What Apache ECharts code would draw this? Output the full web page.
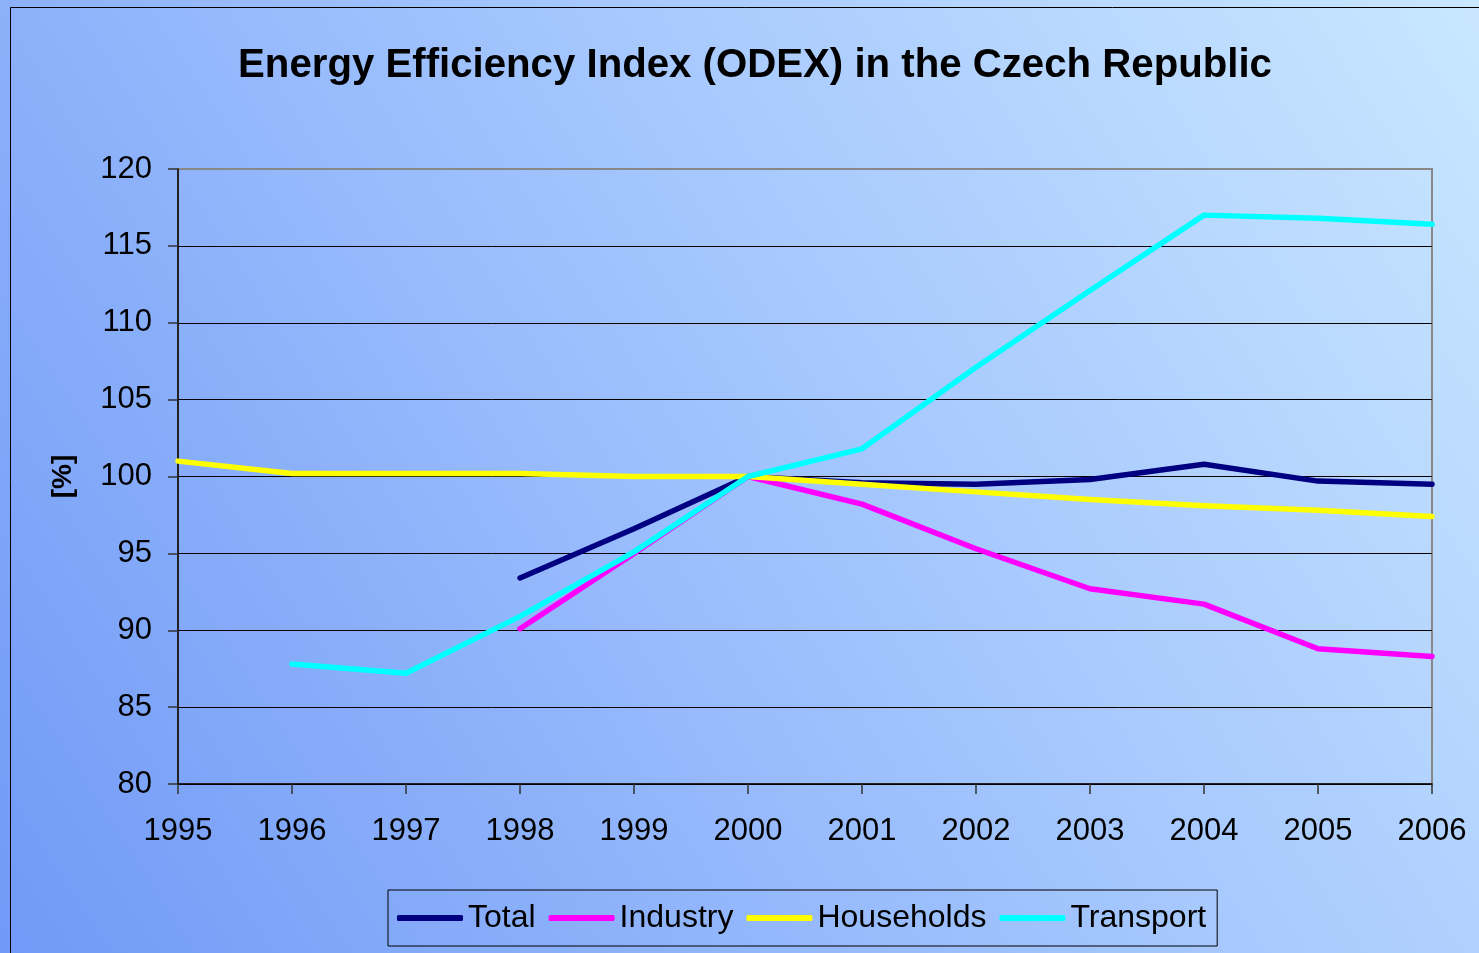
<!DOCTYPE html>
<html><head><meta charset="utf-8">
<script src="https://cdn.jsdelivr.net/npm/echarts@6/dist/echarts.min.js"></script>
<style>html,body{margin:0;padding:0;}#c{width:1479px;height:953px;}</style>
</head><body><div id="c"></div>
<script>
const years = ['1995','1996','1997','1998','1999','2000','2001','2002','2003','2004','2005','2006'];
const total = [null,null,null,93.4,96.6,100,99.6,99.5,99.8,100.8,99.7,99.5];
const industry = [null,null,null,90.1,95.0,100,98.2,95.3,92.7,91.7,88.8,88.3];
const households = [101.0,100.2,100.2,100.2,100.0,100.0,99.5,99.0,98.5,98.1,97.8,97.4];
const transport = [null,87.8,87.2,90.9,95.1,100,101.8,107.1,112.1,117.0,116.8,116.4];

const chart = echarts.init(document.getElementById('c'), null, {renderer:'canvas'});
const font = '"Liberation Sans", Arial, sans-serif';
function mk(name, data, color){
  return {name, type:'line', data, connectNulls:false, symbol:'none',
    lineStyle:{color, width:5.5, cap:'round', join:'round'}, itemStyle:{color}};
}
chart.setOption({
  animation:false,
  backgroundColor: new echarts.graphic.LinearGradient(0,1,1,0,[
    {offset:0,color:'#7199f6'},{offset:0.5,color:'#9fc2fd'},{offset:1,color:'#c9e7ff'}]),
  textStyle:{fontFamily:font},
  title:{text:'Energy Efficiency Index (ODEX) in the Czech Republic', left:750, textAlign:'center', top:41,
    textStyle:{fontSize:40.2, fontWeight:'bold', color:'#000', fontFamily:font}},
  graphic:[{type:'rect', shape:{x:10.5,y:7.5,width:1500,height:1000}, style:{fill:null, stroke:'#000', lineWidth:1}, silent:true}],
  grid:{left:178, right:47, top:169, bottom:169, show:true, borderColor:'#888', borderWidth:2, backgroundColor:'transparent'},
  legend:{left:388, top:890, orient:'horizontal', borderColor:'#000', borderWidth:1, padding:[12,11,12,9],
    itemWidth:66, itemHeight:6, itemGap:13, icon:'roundRect',
    textStyle:{fontSize:32, color:'#000', fontFamily:font},
    data:['Total','Industry','Households','Transport']},
  xAxis:{type:'category', data:years, boundaryGap:false,
    axisLine:{lineStyle:{color:'#000', width:1.5}},
    axisTick:{show:true, length:10, inside:false, alignWithLabel:true, lineStyle:{color:'#333', width:1.5}},
    axisLabel:{fontSize:31, color:'#000', margin:32, fontFamily:font},
    splitLine:{show:false}},
  yAxis:{type:'value', min:80, max:120, interval:5,
    name:'[%]', nameLocation:'middle', nameRotate:90, nameGap:101,
    nameTextStyle:{fontSize:28, fontWeight:'bold', color:'#000', fontFamily:font},
    axisLine:{show:true, lineStyle:{color:'#000', width:1.5}},
    axisTick:{show:true, length:10, lineStyle:{color:'#333', width:1.5}},
    axisLabel:{fontSize:31, color:'#000', margin:26, fontFamily:font},
    splitLine:{show:true, lineStyle:{color:['#000','#000','#000','#000','#000','#000','#000','#000','#888'], width:1}}},
  series:[mk('Total', total, '#000080'), mk('Industry', industry, '#ff00ff'),
          mk('Households', households, '#ffff00'), mk('Transport', transport, '#00ffff')]
});
</script></body></html>
